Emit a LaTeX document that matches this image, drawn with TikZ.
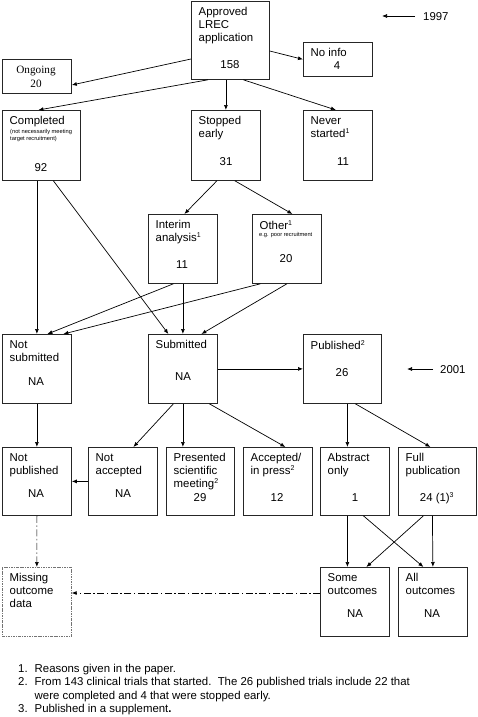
\documentclass[tikz,border=0pt]{standalone}
\usepackage{fontspec}
\setmainfont{Liberation Sans}
\newfontfamily\timesfont{Liberation Serif}
\usetikzlibrary{calc,arrows.meta}
\tikzset{
	box/.style={draw=black!85, line width=0.8pt, minimum width=69pt, minimum height=69pt, inner sep=0pt, anchor=north west},
	wide/.style={minimum width=78pt},
	txt/.style={anchor=north west, inner sep=0pt, align=left, font=\fontsize{11.4}{13}\selectfont},
	num/.style={anchor=base, inner sep=0pt, font=\fontsize{11.4}{13}\selectfont},
	tiny/.style={anchor=base west, inner sep=0pt, align=left, font=\fontsize{5.7}{7}\selectfont},
	arr/.style={line width=0.7pt, -{Latex[length=5pt,width=4pt]}},
	dashdot/.style={arr, dash pattern=on 7pt off 2.5pt on 1.5pt off 2.5pt}
}
\def\sup#1{\textsuperscript{\fontsize{7}{7}\selectfont #1}}

\begin{document}
\begin{tikzpicture}[x=1pt, y=1pt]
		\useasboundingbox (0,0) rectangle (478,-717);
		%%%%% START %%%%%
		
		\node[box, wide, minimum height=78pt] (appr) at (191,-1) {};
		\node[txt] at ([shift={(7.5,-6.5)}]appr.north west) {Approved\\LREC\\application};
		\node[num] at (230,-68) {158};
		
		\node[anchor=west, inner sep=0pt, font=\fontsize{11.4}{13}\selectfont] (t97) at (423,-17) {1997};
		\coordinate (a97) at (382,-16);
		\draw[arr] ([shift={(-8,1)}]t97.west) -- (a97);
		
		\node[box, minimum height=34pt] (noinfo) at (303,-42) {};
		\node[txt] at ([shift={(7.5,-6.5)}]noinfo.north west) {No info};
		\node[num] at (337,-70) {4};
		
		\node[box, minimum height=34pt] (ongo) at (2,-59) {};
		\node[num, font=\timesfont\fontsize{11.2}{13}\selectfont] at (36,-74) {Ongoing};
		\node[num, font=\timesfont\fontsize{11.2}{13}\selectfont] at (36,-87) {20};
		
		\node[box, wide, minimum height=70pt] (compl) at (2,-110) {};
		\node[txt] at ([shift={(7.5,-6.5)}]compl.north west) {Completed};
		\node[tiny] at (10,-140) {(not necessarily meeting\\target recruitment)};
		\node[num] at (41,-171) {92};
		
		\node[box, minimum height=70pt] (stop) at (191,-110) {};
		\node[txt] at ([shift={(7.5,-6.5)}]stop.north west) {Stopped\\early};
		\node[num] at (226,-165) {31};
		
		\node[box, minimum height=70pt] (never) at (303,-110) {};
		\node[txt] at ([shift={(7.5,-6.5)}]never.north west) {Never\\started\sup{1}};
		\node[num] at (343,-165) {11};
		
		\draw[arr] ([yshift=-58]appr.north west) -- ([yshift=-26]ongo.north east);
		\draw[arr] ([yshift=-50]appr.north east) -- (noinfo.west);
		\draw[arr] ([xshift=17]appr.south west) -- ([xshift=-3]compl.north);
		\draw[arr] (stop.north |- appr.south) -- (stop.north);
		\draw[arr] ([xshift=13]appr.south) -- ([xshift=-2]never.north);
		
		\node[box] (interim) at (148,-214) {};
		\node[txt] at ([shift={(7.5,-6.5)}]interim.north west) {Interim\\analysis\sup{1}};
		\node[num] at (182,-268) {11};
		
		\node[box] (other) at (252,-214) {};
		\node[txt] at ([shift={(7.5,-6.5)}]other.north west) {Other\sup{1}};
		\node[tiny] at (259,-236) {e.g. poor recruitment};
		\node[num] at (286,-262) {20};
		
		\draw[arr] ([xshift=-9]stop.south) -- ([xshift=1.5]interim.north);
		\draw[arr] ([xshift=9]stop.south) -- ([xshift=5.5]other.north);
		
		\node[box] (notsub) at (2,-334) {};
		\node[txt] at ([shift={(7.5,-6.5)}]notsub.north west) {Not\\submitted};
		\node[num] at (36,-385) {NA};
		
		\node[box] (sub) at (148,-334) {};
		\node[txt] at ([shift={(7.5,-6.5)}]sub.north west) {Submitted};
		\node[num] at (183,-380) {NA};
		
		\node[box, wide] (publ) at (303,-334) {};
		\node[txt] at ([shift={(7.5,-6.5)}]publ.north west) {Published\sup{2}};
		\node[num] at (342,-376) {26};
		
		\node[anchor=west, inner sep=0pt, font=\fontsize{11.4}{13}\selectfont] (t01) at (440,-370) {2001};
		\coordinate (a01) at (407,-369);
		\draw[arr] ([shift={(-7,1)}]t01.west) -- (a01);
		
		\draw[arr] (notsub.north |- compl.south) -- (notsub.north);
		\draw[arr] ([xshift=12]compl.south) -- ([xshift=-14.5]sub.north);
		\draw[arr] ([xshift=-9.5]interim.south) -- ([xshift=10.5]notsub.north);
		\draw[arr] (interim.south) -- (sub.north);
		\draw[arr] ([xshift=-26.5]other.south) -- ([xshift=26.5]notsub.north);
		\draw[arr] (other.south) -- ([xshift=18.5]sub.north);
		\draw[arr] (sub.east) -- (publ.west);
		
		\node[box, minimum height=68pt] (notpub) at (2,-447) {};
		\node[txt] at ([shift={(7.5,-6.5)}]notpub.north west) {Not\\published};
		\node[num] at (36,-497) {NA};
		
		\node[box, minimum height=68pt] (notacc) at (88,-447) {};
		\node[txt] at ([shift={(7.5,-6.5)}]notacc.north west) {Not\\accepted};
		\node[num] at (123,-497) {NA};
		
		\node[box, minimum width=68pt, minimum height=68pt] (pres) at (166,-447) {};
		\node[txt] at ([shift={(7.5,-6.5)}]pres.north west) {Presented\\scientific\\meeting\sup{2}};
		\node[num] at (200,-501) {29};
		
		\node[box, minimum height=68pt] (acc) at (243,-447) {};
		\node[txt] at ([shift={(7.5,-6.5)}]acc.north west) {Accepted/\\in press\sup{2}};
		\node[num] at (277,-501) {12};
		
		\node[box, minimum height=68pt] (abstr) at (320,-447) {};
		\node[txt] at ([shift={(7.5,-6.5)}]abstr.north west) {Abstract\\only};
		\node[num] at (355,-501) {1};
		
		\node[box, wide, minimum height=68pt] (full) at (398,-447) {};
		\node[txt] at ([shift={(7.5,-6.5)}]full.north west) {Full\\publication};
		\node[num] at (437,-501) {24 (1)\sup{3}};
		
		\draw[arr] (notsub.south) -- (notpub.north);
		\draw[arr] ([xshift=-9.5]sub.south) -- ([xshift=10.5]notacc.north);
		\draw[arr] (sub.south) -- (sub.south |- pres.north);
		\draw[arr] ([xshift=26.5]sub.south) -- ([xshift=7.5]acc.north);
		\draw[arr] ([xshift=5]publ.south) -- ([xshift=-7.5]abstr.north);
		\draw[arr] ([xshift=13]publ.south) -- ([xshift=-7]full.north);
		\draw[arr] (notacc.west) -- (notpub.east);
		
		\node[box, draw=black!55, line width=0.7pt, dash pattern=on 2.5pt off 1pt on 0.8pt off 1pt] (miss) at (2,-567) {};
		\node[txt] at ([shift={(7.5,-6.5)}]miss.north west) {Missing\\outcome\\data};
		
		\node[box] (some) at (320,-567) {};
		\node[txt] at ([shift={(7.5,-6.5)}]some.north west) {Some\\outcomes};
		\node[num] at (355,-617) {NA};
		
		\node[box] (all) at (398,-567) {};
		\node[txt] at ([shift={(7.5,-6.5)}]all.north west) {All\\outcomes};
		\node[num] at (432,-617) {NA};
		
		\draw[dashdot] (notpub.south) -- (miss.north);
		\draw[dashdot] ([yshift=-26]some.north west) -- ([yshift=-26]miss.north east);
		\draw[arr] ([xshift=-7.5]abstr.south) -- ([xshift=-7.5]some.north);
		\draw[arr] ([xshift=8.5]abstr.south) -- ([xshift=-9.5]all.north);
		\draw[arr] ([xshift=-14]full.south) -- ([xshift=11.5]some.north);
		\draw[arr] ([xshift=-5]full.south) -- (all.north);
		
		\node[anchor=north west, inner sep=0pt, font=\fontsize{11.4}{13.3}\selectfont] (notes) at (18,-663) {%
			\begin{tabular}{@{}l@{\hspace{7pt}}l@{}}
				1.& Reasons given in the paper.\\
				2.& From 143 clinical trials that started.\ \ The 26 published trials include 22 that\\
				& were completed and 4 that were stopped early.\\
				3.& Published in a supplement\textbf{.}
			\end{tabular}};
		
		%%%%% END %%%%%
\end{tikzpicture}
\end{document}
